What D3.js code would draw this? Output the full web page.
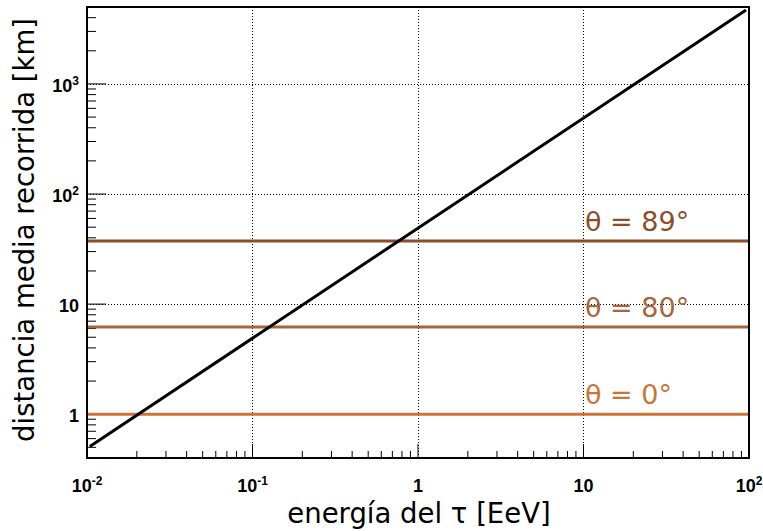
<!DOCTYPE html>
<meta charset="utf-8">
<title>distancia media recorrida</title>
<style>
  body { margin: 0; background: #fff; }
  .tick-label { font-family: "Liberation Sans", Arial, sans-serif; font-weight: bold; font-size: 18px; }
  .title { font-family: "DejaVu Sans", sans-serif; font-size: 27.5px; }
  .level { font-family: "DejaVu Sans", sans-serif; font-size: 27px; }
</style>
<body>
<script src="https://d3js.org/d3.v7.min.js"></script>
<script>

var width = 763,
    height = 531,
    left = 87, right = 749,
    top_ = 7, bottom = 458;

// black curve: mean decay length of the tau vs energy
var energy = [0.0104, 96];          // EeV
var distance = [0.51, 4700];        // km

// horizontal reference levels per zenith angle
var angles = ["θ = 0°", "θ = 80°", "θ = 89°"];
var levels = [1, 6.2, 37.4];        // km
var levelColors = ["#cc7438", "#a8643a", "#8a4f2a"];

// tick labels
var xTicks = [0.01, 0.1, 1, 10, 100];
var xTickBase = ["10", "10", "1", "10", "10"];
var xTickSup = ["-2", "-1", "", "", "2"];
var yTicks = [1, 10, 100, 1000];
var yTickBase = ["1", "10", "10", "10"];
var yTickSup = ["", "", "2", "3"];

var x = d3.scaleLog().domain([0.01, 100]).range([left, right]);
var y = d3.scaleLog().domain([0.4, 5000]).range([bottom, top_]);

var svg = d3.select("body").append("svg")
  .attr("width", width)
  .attr("height", height);

svg.append("rect").attr("width", width).attr("height", height).attr("fill", "#fff");

// grid at the decades
var grid = svg.append("g")
  .attr("stroke", "#000")
  .attr("stroke-width", 1)
  .attr("stroke-dasharray", "1,2");

grid.selectAll("line.gx")
  .data([0.1, 1, 10])
  .enter().append("line")
  .attr("x1", d => Math.round(x(d)) + 0.5).attr("x2", d => Math.round(x(d)) + 0.5)
  .attr("y1", top_).attr("y2", bottom);

grid.selectAll("line.gy")
  .data(yTicks)
  .enter().append("line")
  .attr("y1", d => Math.round(y(d)) + 0.5).attr("y2", d => Math.round(y(d)) + 0.5)
  .attr("x1", left).attr("x2", right);

// minor + major ticks
var xAll = x.ticks();   // 1..9 per decade
var yAll = y.ticks();
var isDecade = function (v) { return Math.abs(Math.log10(v) - Math.round(Math.log10(v))) < 1e-6; };

svg.append("g").selectAll("line")
  .data(xAll.filter(d => d > 0.01 && d < 100))
  .enter().append("line")
  .attr("x1", d => x(d)).attr("x2", d => x(d))
  .attr("y1", bottom).attr("y2", d => bottom - (isDecade(d) ? 14 : 7))
  .attr("stroke", "#000").attr("stroke-width", 1);

svg.append("g").selectAll("line")
  .data(yAll.filter(d => d > 0.4 && d < 5000))
  .enter().append("line")
  .attr("y1", d => y(d)).attr("y2", d => y(d))
  .attr("x1", left).attr("x2", d => left + (isDecade(d) ? 19 : 9))
  .attr("stroke", "#000").attr("stroke-width", 1);

// horizontal levels
svg.append("g").selectAll("line")
  .data(levels)
  .enter().append("line")
  .attr("x1", left).attr("x2", right)
  .attr("y1", d => y(d)).attr("y2", d => y(d))
  .attr("stroke", (d, i) => levelColors[i])
  .attr("stroke-width", 3);

svg.append("g").selectAll("text")
  .data(levels)
  .enter().append("text")
  .attr("class", "level")
  .attr("x", 585)
  .attr("y", d => y(d) - 10)
  .attr("fill", (d, i) => levelColors[i])
  .text((d, i) => angles[i]);

// curve
var line = d3.line()
  .x(d => x(d[0]))
  .y(d => y(d[1]));

svg.append("path")
  .datum(d3.zip(energy, distance))
  .attr("d", line)
  .attr("fill", "none")
  .attr("stroke", "#000")
  .attr("stroke-width", 3);

// frame
svg.append("rect")
  .attr("x", left).attr("y", top_)
  .attr("width", right - left).attr("height", bottom - top_)
  .attr("fill", "none")
  .attr("stroke", "#000")
  .attr("stroke-width", 2);

// x tick labels
var xl = svg.append("g").selectAll("text")
  .data(xTicks)
  .enter().append("text")
  .attr("class", "tick-label")
  .attr("x", d => x(d))
  .attr("y", 492)
  .attr("text-anchor", "middle");
xl.append("tspan").text((d, i) => xTickBase[i]);
xl.append("tspan").attr("dy", -7).attr("font-size", 12).text((d, i) => xTickSup[i]);

// y tick labels
var yl = svg.append("g").selectAll("text")
  .data(yTicks)
  .enter().append("text")
  .attr("class", "tick-label")
  .attr("x", 79)
  .attr("y", d => y(d) + 8)
  .attr("text-anchor", "end");
yl.append("tspan").text((d, i) => yTickBase[i]);
yl.append("tspan").attr("dy", -7).attr("font-size", 12).text((d, i) => yTickSup[i]);

// axis titles
svg.append("text")
  .attr("class", "title")
  .attr("x", 419).attr("y", 523)
  .attr("text-anchor", "middle")
  .text("energía del τ [EeV]");

svg.append("text")
  .attr("class", "title")
  .attr("transform", "translate(34,230) rotate(-90)")
  .attr("text-anchor", "middle")
  .text("distancia media recorrida [km]");

</script>
</body>
</html>
